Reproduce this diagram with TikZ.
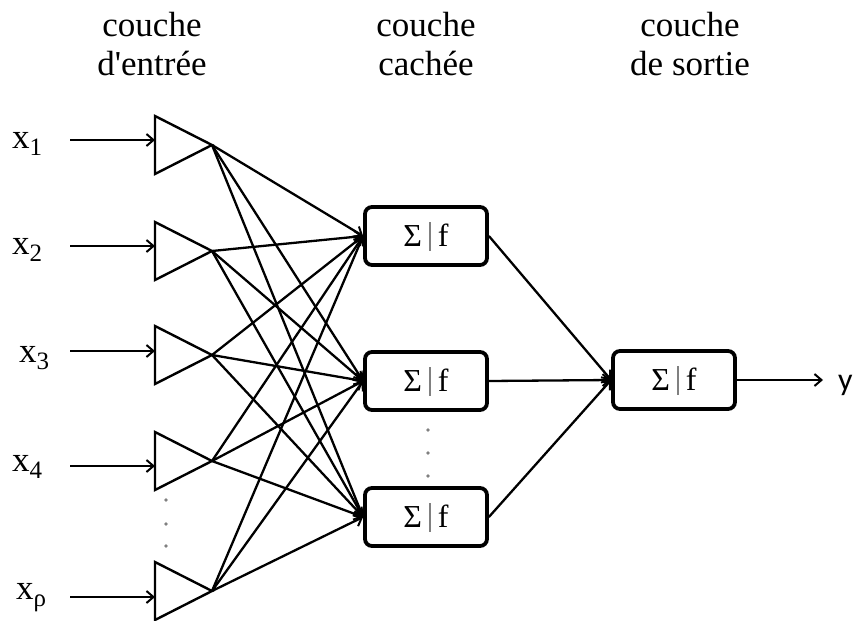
\documentclass[tikz,border=0pt]{standalone}
\usepackage{fontspec}
\setmainfont{Liberation Serif}
\newfontfamily\labelsans{Carlito}
\usetikzlibrary{arrows.meta}

\tikzset{
  wire/.style={line width=2.3pt, -{Straight Barb[length=7pt,width=12pt,line width=2pt]}},
  tri/.style={line width=2.4pt, line join=miter},
  unit/.style={draw, line width=3.8pt, rounded corners=7pt, minimum width=122pt,
               minimum height=58pt, inner sep=0pt, fill=white,
               font=\fontsize{32}{32}\selectfont},
  title/.style={align=center, font=\fontsize{35}{39}\selectfont, inner sep=0pt},
  inlabel/.style={anchor=west, inner sep=0pt, font=\fontsize{35}{35}\selectfont},
  dotmark/.style={fill=gray, circle, inner sep=0pt, minimum size=3.6pt}
}

\newcommand{\sigf}{Σ\hspace{7pt}\textcolor{gray}{\rule[-4pt]{1.8pt}{29pt}}\hspace{7pt}f}
\newcommand{\subidx}[1]{\raisebox{-7pt}{\fontsize{25}{25}\selectfont #1}}

\begin{document}
\begin{tikzpicture}[x=1pt, y=-1pt]
  \useasboundingbox (0,0) rectangle (862,621);

  % layer titles
  \node[title, anchor=north] (t1) at (152,12) {couche\\d\textquotesingle entrée};
  \node[title, anchor=north] (t2) at (426,12) {couche\\cachée};
  \node[title, anchor=north] (t3) at (690,12) {couche\\de sortie};

  % input layer: triangles (apex coordinates a1..a5, base entry points b1..b5)
  \foreach \i/\yc/\ya in {1/145/140, 2/251/246, 3/355/351, 4/461/466, 5/591/597} {
    \draw[tri] (155,\yc-29) -- (212,\yc) -- (155,\yc+29) -- cycle;
    \coordinate (a\i) at (212,\yc);
    \coordinate (b\i) at (155,\ya);
    \coordinate (s\i) at (70,\ya);
  }

  % input labels
  \node[inlabel] (x1) at (12,144) {x\subidx{1}};
  \node[inlabel] (x2) at (12,250) {x\subidx{2}};
  \node[inlabel] (x3) at (19,358) {x\subidx{3}};
  \node[inlabel] (x4) at (12,467) {x\subidx{4}};
  \node[inlabel] (x5) at (16,598) {x\subidx{ρ}};

  \foreach \i in {1,...,5} { \draw[wire] (s\i) -- (b\i); }

  % dots between inputs
  \node[dotmark] (d1) at (166,500) {};
  \node[dotmark] (d2) at (166,524) {};
  \node[dotmark] (d3) at (166,546) {};

  % hidden layer
  \node[unit] (h1) at (426,236) {\sigf};
  \node[unit] (h2) at (426,381) {\sigf};
  \node[unit] (h3) at (426,517) {\sigf};

  \node[dotmark] (e1) at (428,430) {};
  \node[dotmark] (e2) at (428,453) {};
  \node[dotmark] (e3) at (428,476) {};

  % fully connected input -> hidden
  \foreach \i in {1,...,5} {
    \foreach \j in {1,2,3} {
      \draw[wire] (a\i) -- (h\j.west);
    }
  }

  % output layer
  \node[unit] (o) at (674,380) {\sigf};
  \foreach \j in {1,2,3} { \draw[wire] (h\j.east) -- (o.west); }

  \node[anchor=west, inner sep=0pt, font=\labelsans\fontsize{32}{32}\selectfont] (y) at (838,385) {y};
  \coordinate (yend) at (823,380);
  \draw[wire] (o.east) -- (yend);
\end{tikzpicture}
\end{document}
